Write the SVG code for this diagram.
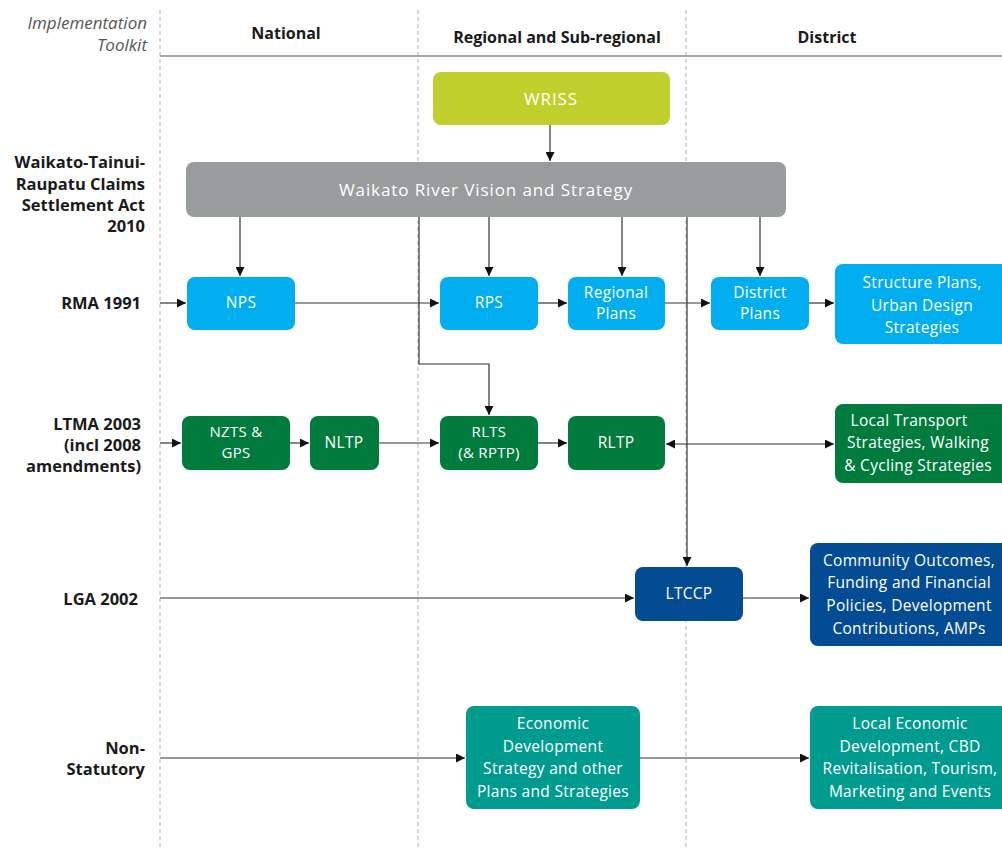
<svg xmlns="http://www.w3.org/2000/svg" width="1002" height="849" viewBox="0 0 1002 849">
<defs>
<marker id="ah" viewBox="0 0 10 10" refX="10" refY="5" markerWidth="10" markerHeight="9" markerUnits="userSpaceOnUse" orient="auto-start-reverse">
<path d="M0,0 L10,5 L0,10 z" fill="#111"/>
</marker>
<style>
.grid{stroke:#b0b0b0;stroke-width:1;stroke-dasharray:4 3;fill:none}
.hline{stroke:#8a8a8a;stroke-width:1.5}
.hdr{font-family:"Open Sans","Liberation Sans",sans-serif;font-weight:bold;font-size:16px;fill:#1a1a1a;text-anchor:middle}
.tk{font-family:"Open Sans","Liberation Sans",sans-serif;font-style:italic;font-size:17px;fill:#555;text-anchor:end}
.lbl{font-family:"Open Sans","Liberation Sans",sans-serif;font-weight:bold;font-size:16.5px;fill:#1a1a1a;text-anchor:end}
.nt{font-family:"Open Sans","Liberation Sans",sans-serif;font-size:15.5px;fill:#fff;text-anchor:middle;letter-spacing:0.3px}
.sm{font-size:15px}
.big{font-size:17px;letter-spacing:0.9px}
.c{stroke:#333;stroke-width:1.2;fill:none;marker-end:url(#ah)}
.lime{fill:#c0cf2c}.gray{fill:#989c9d}.sky{fill:#00aeef}.grn{fill:#007b3e}.navy{fill:#034c94}.teal{fill:#009b8f}
</style>
</defs>
<g id="grid">
<line class="grid" x1="160" y1="10" x2="160" y2="849"/>
<line class="grid" x1="418" y1="10" x2="418" y2="849"/>
<line class="grid" x1="686" y1="10" x2="686" y2="849"/>
<line class="hline" x1="160" y1="56" x2="1002" y2="56"/>
</g>
<g id="headers">
<text class="tk" x="147" y="29">Implementation</text>
<text class="tk" x="147" y="51">Toolkit</text>
<text class="hdr" x="286" y="39">National</text>
<text class="hdr" x="557" y="43">Regional and Sub-regional</text>
<text class="hdr" x="827" y="43">District</text>
</g>
<g id="row-labels">
<text class="lbl" x="145" y="168">Waikato-Tainui-</text>
<text class="lbl" x="145" y="190">Raupatu Claims</text>
<text class="lbl" x="145" y="211">Settlement Act</text>
<text class="lbl" x="145" y="232">2010</text>
<text class="lbl" x="141" y="309">RMA 1991</text>
<text class="lbl" x="141" y="430">LTMA 2003</text>
<text class="lbl" x="141" y="451">(incl 2008</text>
<text class="lbl" x="141" y="472">amendments)</text>
<text class="lbl" x="138" y="605">LGA 2002</text>
<text class="lbl" x="145" y="754">Non-</text>
<text class="lbl" x="145" y="775">Statutory</text>
</g>
<g id="connectors">
<line class="c" x1="550" y1="125" x2="550" y2="161"/>
<line class="c" x1="240" y1="217" x2="240" y2="276"/>
<line class="c" x1="489" y1="217" x2="489" y2="276"/>
<line class="c" x1="622" y1="217" x2="622" y2="276"/>
<line class="c" x1="760" y1="217" x2="760" y2="276"/>
<path class="c" d="M419,217 V364 H489 V415"/>
<line class="c" x1="687" y1="217" x2="687" y2="566"/>
<line class="c" x1="160" y1="303" x2="186" y2="303"/>
<line class="c" x1="295" y1="303" x2="439" y2="303"/>
<line class="c" x1="538" y1="303" x2="567" y2="303"/>
<line class="c" x1="665" y1="303" x2="710" y2="303"/>
<line class="c" x1="809" y1="303" x2="834" y2="303"/>
<line class="c" x1="160" y1="443" x2="181" y2="443"/>
<line class="c" x1="290" y1="443" x2="309" y2="443"/>
<line class="c" x1="379" y1="443" x2="439" y2="443"/>
<line class="c" x1="538" y1="443" x2="567" y2="443"/>
<line class="c" style="marker-start:url(#ah)" x1="666" y1="444" x2="834" y2="444"/>
<line class="c" x1="160" y1="598" x2="634" y2="598"/>
<line class="c" x1="743" y1="598" x2="809" y2="598"/>
<line class="c" x1="160" y1="758" x2="465" y2="758"/>
<line class="c" x1="640" y1="758" x2="809" y2="758"/>
</g>
<g id="wriss">
<rect class="lime" x="433" y="72" width="237" height="53" rx="8"/>
<text class="nt big" x="551" y="105">WRISS</text>
</g>
<g id="waikato-vision">
<rect class="gray" x="186" y="162" width="600" height="55" rx="8"/>
<text class="nt big" x="486" y="196">Waikato River Vision and Strategy</text>
</g>
<g id="nps">
<rect class="sky" x="187" y="277" width="108" height="53" rx="8"/>
<text class="nt" x="241" y="308">NPS</text>
</g>
<g id="rps">
<rect class="sky" x="440" y="277" width="98" height="53" rx="8"/>
<text class="nt" x="489" y="308">RPS</text>
</g>
<g id="regional-plans">
<rect class="sky" x="568" y="277" width="97" height="53" rx="8"/>
<text class="nt" x="616" y="298">Regional</text>
<text class="nt" x="616" y="319">Plans</text>
</g>
<g id="district-plans">
<rect class="sky" x="711" y="277" width="98" height="53" rx="8"/>
<text class="nt" x="760" y="298">District</text>
<text class="nt" x="760" y="319">Plans</text>
</g>
<g id="structure-plans">
<rect class="sky" x="835" y="264" width="180" height="80" rx="8"/>
<text class="nt" x="922" y="288">Structure Plans,</text>
<text class="nt" x="922" y="311">Urban Design</text>
<text class="nt" x="922" y="333">Strategies</text>
</g>
<g id="nzts-gps">
<rect class="grn" x="182" y="416" width="108" height="54" rx="8"/>
<text class="nt sm" x="236" y="437">NZTS &amp;</text>
<text class="nt sm" x="236" y="457.5">GPS</text>
</g>
<g id="nltp">
<rect class="grn" x="310" y="416" width="69" height="54" rx="8"/>
<text class="nt" x="344" y="448">NLTP</text>
</g>
<g id="rlts">
<rect class="grn" x="440" y="416" width="98" height="54" rx="8"/>
<text class="nt sm" x="489" y="437">RLTS</text>
<text class="nt sm" x="489" y="457.5">(&amp; RPTP)</text>
</g>
<g id="rltp">
<rect class="grn" x="568" y="416" width="97" height="54" rx="8"/>
<text class="nt" x="616" y="448">RLTP</text>
</g>
<g id="local-transport">
<rect class="grn" x="835" y="404" width="180" height="79" rx="8"/>
<text class="nt" x="909" y="426">Local Transport</text>
<text class="nt" x="918" y="448">Strategies, Walking</text>
<text class="nt" x="918" y="471">&amp; Cycling Strategies</text>
</g>
<g id="ltccp">
<rect class="navy" x="635" y="567" width="108" height="54" rx="8"/>
<text class="nt" x="689" y="599">LTCCP</text>
</g>
<g id="community-outcomes">
<rect class="navy" x="810" y="543" width="200" height="103" rx="8"/>
<text class="nt" x="909" y="566">Community Outcomes,</text>
<text class="nt" x="909" y="588">Funding and Financial</text>
<text class="nt" x="909" y="611">Policies, Development</text>
<text class="nt" x="909" y="634">Contributions, AMPs</text>
</g>
<g id="economic-development">
<rect class="teal" x="466" y="706" width="174" height="103" rx="8"/>
<text class="nt" x="553" y="729">Economic</text>
<text class="nt" x="553" y="752">Development</text>
<text class="nt" x="553" y="774">Strategy and other</text>
<text class="nt" x="553" y="797">Plans and Strategies</text>
</g>
<g id="local-economic">
<rect class="teal" x="810" y="706" width="200" height="103" rx="8"/>
<text class="nt" x="910" y="729">Local Economic</text>
<text class="nt" x="910" y="752">Development, CBD</text>
<text class="nt" x="910" y="774">Revitalisation, Tourism,</text>
<text class="nt" x="910" y="797">Marketing and Events</text>
</g>
</svg>
